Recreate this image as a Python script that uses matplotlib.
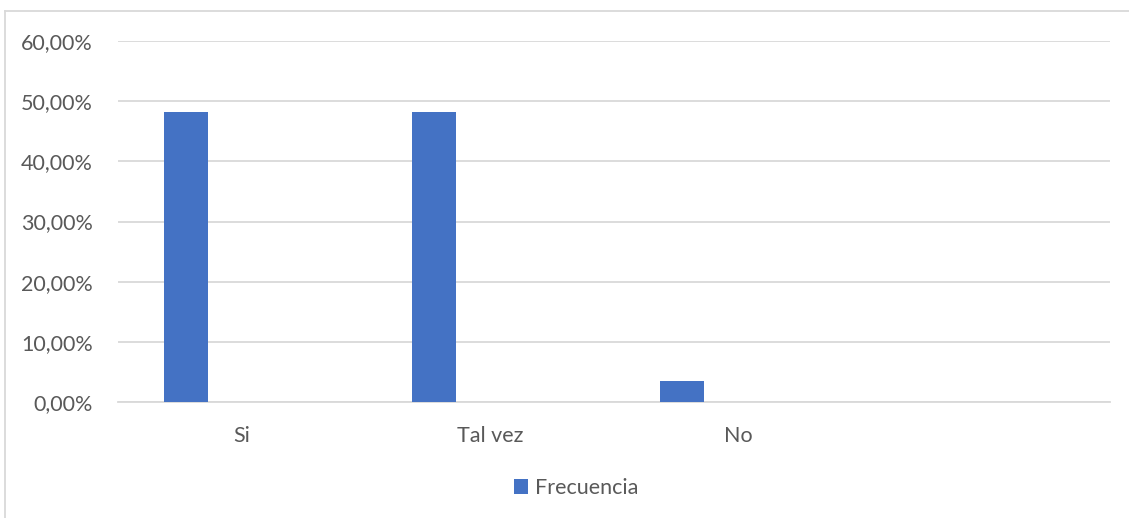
import matplotlib.pyplot as plt
from matplotlib.lines import Line2D
import numpy as np

categories = ['Si', 'Tal vez', 'No', '']
frecuencia = [48.28, 48.28, 3.45, 0.0]
yticks = [0, 10, 20, 30, 40, 50, 60]

plt.rcParams['font.family'] = ['Lato', 'DejaVu Sans']
text_color = '#595959'
grid_color = '#D9D9D9'
bar_color = '#4472C4'
fs = 15.5

fig = plt.figure(figsize=(11.29, 5.18), dpi=100)
ax = fig.add_axes([118 / 1129, 1 - 402 / 518, (1110 - 118) / 1129, (402 - 41) / 518])

x = np.arange(len(categories))
ax.bar(x - 0.226, frecuencia, width=0.177, color=bar_color, label='Frecuencia', zorder=3)

ax.set_xlim(-0.5, len(categories) - 0.5)
ax.set_ylim(0, 60)
ax.set_yticks(yticks)
ax.set_yticklabels([f'{v:.2f}%'.replace('.', ',') for v in yticks], fontsize=fs, color=text_color)
ax.set_xticks(x)
ax.set_xticklabels(categories, fontsize=fs, color=text_color)
ax.tick_params(axis='y', length=0, pad=18)
ax.tick_params(axis='x', length=0, pad=17)

ax.grid(True, axis='y', color=grid_color, linewidth=1.3, zorder=0)
ax.set_axisbelow(True)
for side in ['top', 'right', 'left']:
    ax.spines[side].set_visible(False)
ax.spines['bottom'].set_color(grid_color)
ax.spines['bottom'].set_linewidth(1.3)

# chart area border (top and left edges visible)
fig.add_artist(Line2D([4.5 / 1129, 1], [1 - 10.5 / 518, 1 - 10.5 / 518],
                      transform=fig.transFigure, color=grid_color, linewidth=1.3))
fig.add_artist(Line2D([4.5 / 1129, 4.5 / 1129], [0, 1 - 10.5 / 518],
                      transform=fig.transFigure, color=grid_color, linewidth=1.3))

leg = fig.legend(loc='center', bbox_to_anchor=(576 / 1129, 1 - 488 / 518),
                 frameon=False, fontsize=fs, handlelength=0.65, handleheight=0.65,
                 handletextpad=0.3)
for t in leg.get_texts():
    t.set_color(text_color)

fig.savefig('out.png', dpi=100)
plt.close(fig)
